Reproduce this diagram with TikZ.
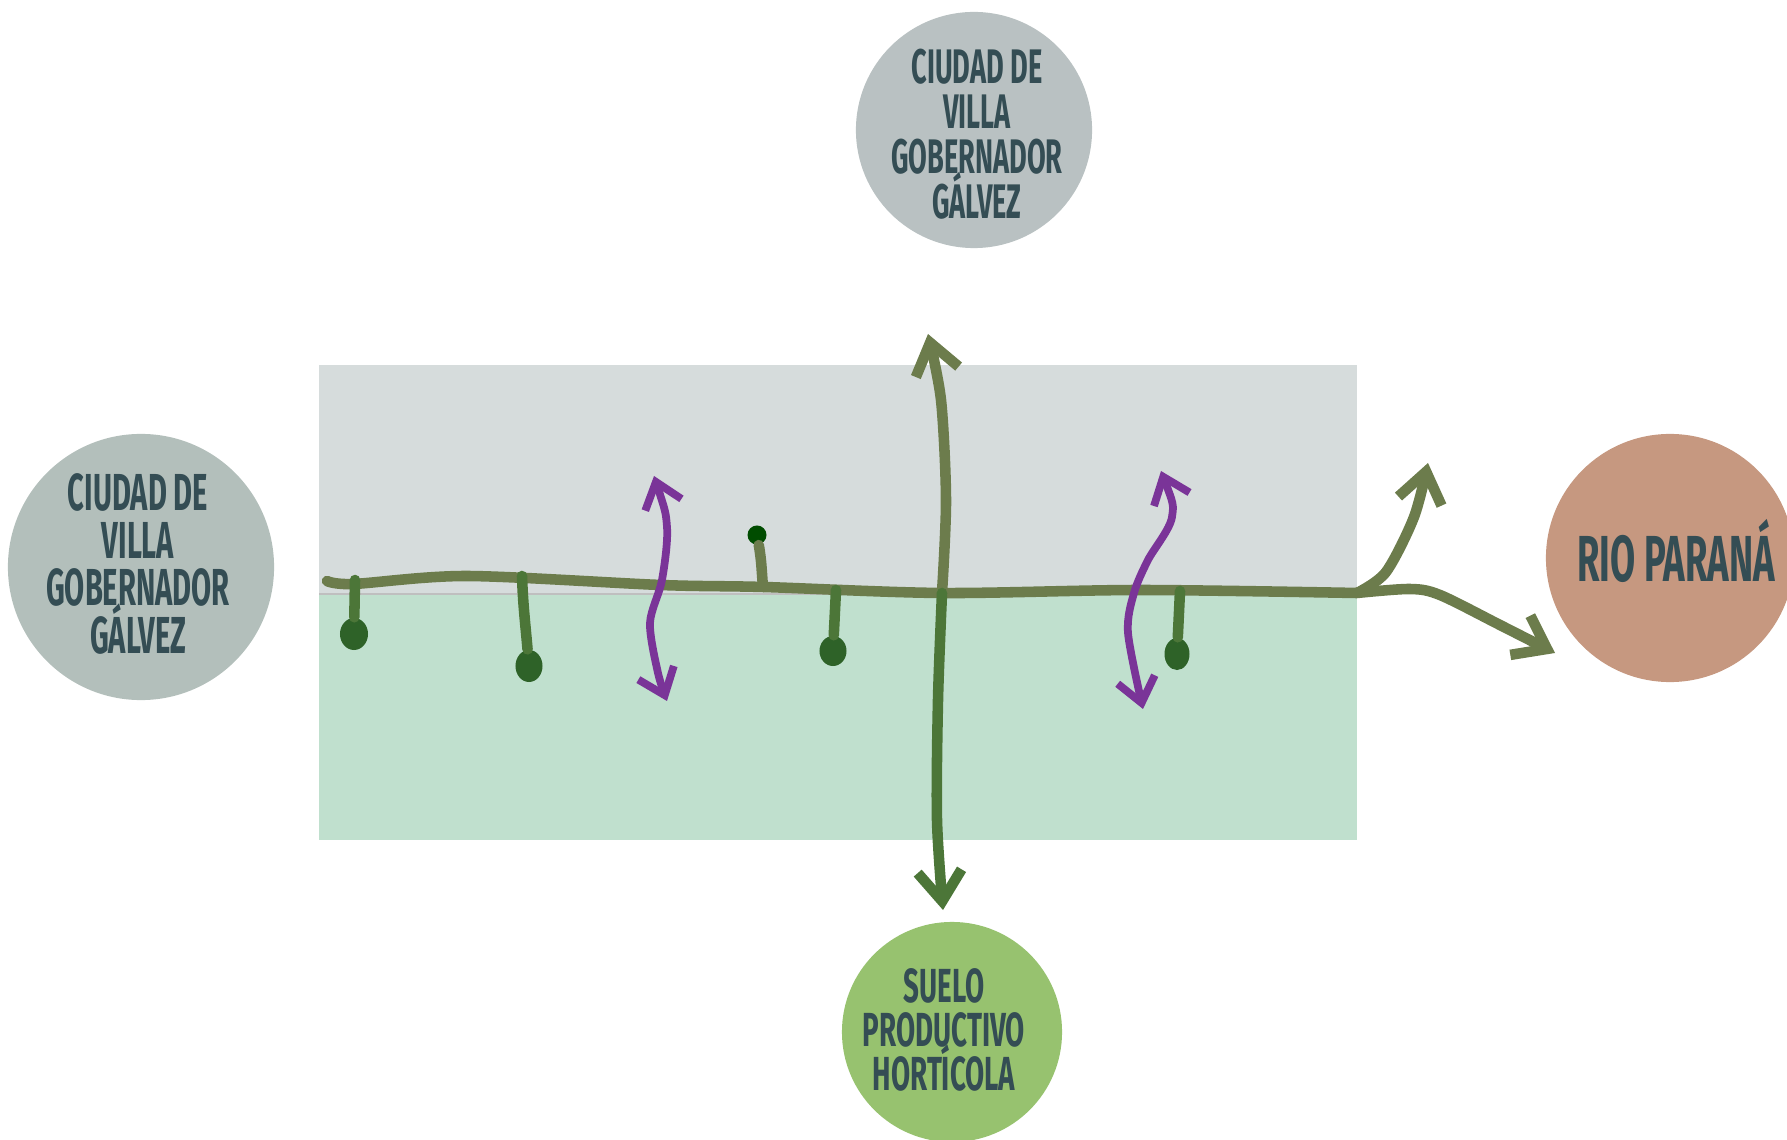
\documentclass[tikz,border=0pt]{standalone}
\usepackage{fontspec}
\newfontfamily\lblfont[FakeStretch=0.56]{Fira Sans}
\newfontfamily\lblfontb[FakeStretch=0.58]{Fira Sans}
\usetikzlibrary{arrows.meta,shapes.geometric}

\definecolor{txtc}{RGB}{52,77,84}
\definecolor{grisc}{RGB}{185,193,194}
\definecolor{grisl}{RGB}{179,191,187}
\definecolor{rioc}{RGB}{198,152,128}
\definecolor{sueloc}{RGB}{151,194,111}
\definecolor{zonasup}{RGB}{214,220,220}
\definecolor{zonainf}{RGB}{192,224,206}
\definecolor{oliva}{RGB}{108,124,76}
\definecolor{verde}{RGB}{76,118,56}
\definecolor{verdeosc}{RGB}{46,98,40}
\definecolor{violeta}{RGB}{122,52,152}

\tikzset{
	lugar/.style={circle, inner sep=0pt},
	rotulo/.style={text=txtc, align=center, inner sep=0pt},
	trazo/.style={line width=3pt, line cap=round, line join=round, draw=oliva},
	flecha/.style={trazo, -{Straight Barb[length=3mm,width=4.4mm]}},
	doble/.style={line width=2.2pt, line cap=round, draw=violeta,
		{Straight Barb[length=2.4mm,width=3.8mm]}-{Straight Barb[length=2.4mm,width=3.8mm]}},
	gota/.style={ellipse, fill=verdeosc, inner sep=0pt},
}
\newcommand{\letra}[2]{\lblfont\bfseries\fontsize{#1}{#2}\selectfont\lineskiplimit=-20pt}

\begin{document}
\begin{tikzpicture}[x=0.01cm,y=-0.01cm]
	\useasboundingbox (0,0) rectangle (1787,1140);

	% zonas
	\fill[zonasup] (319,365) rectangle (1357,594);
	\fill[zonainf] (319,594) rectangle (1357,840);
	\draw[line width=0.4pt, color=black!25] (319,594) -- (1357,594);

	% lugares
	\node[lugar, fill=grisc, minimum size=2.36cm] (villaN) at (974,130) {};
	\node[rotulo, font=\letra{13.8}{12.8}] (villaNt) at (977,134) {CIUDAD DE\\VILLA\\GOBERNADOR\\GÁLVEZ};
	\node[lugar, fill=grisl, minimum size=2.66cm] (villaO) at (141,567) {};
	\node[rotulo, font=\letra{14.8}{13.5}] (villaOt) at (138,564) {CIUDAD DE\\VILLA\\GOBERNADOR\\GÁLVEZ};
	\node[lugar, fill=rioc, minimum size=2.48cm] (rio) at (1670,558) {};
	\node[rotulo, font=\letra{18.5}{18}] (riot) at (1676,551) {RIO PARANÁ};
	\node[lugar, fill=sueloc, minimum size=2.2cm] (suelo) at (952,1032) {};
	\node[rotulo, font=\letra{13.6}{12.5}\lblfontb] (suelot) at (944,1030) {SUELO\\PRODUCTIVO\\HORTÍCOLA};

	% eje principal
	\coordinate (m0) at (327,581);
	\coordinate (m1) at (353,584);
	\coordinate (m2) at (467,576);
	\coordinate (m3) at (661,585);
	\coordinate (m4) at (764,587);
	\coordinate (cruce) at (942,593);
	\coordinate (m6) at (1140,590);
	\coordinate (fin) at (1357,593);
	\draw[trazo] plot[smooth, tension=0.5] coordinates {(m0) (m1) (m2) (m3) (m4) (cruce) (m6) (fin)};

	% flechas verticales
	\coordinate (v1) at (946,500);
	\coordinate (v2) at (941,400);
	\coordinate (norte) at (928,334);
	\coordinate (v3) at (938,700);
	\coordinate (v4) at (937,820);
	\coordinate (sur) at (943,910);
	\draw[flecha] plot[smooth, tension=0.5] coordinates {(cruce) (v1) (v2) (norte)};
	\draw[flecha, draw=verde] plot[smooth, tension=0.5] coordinates {(cruce) (v3) (v4) (sur)};

	% bifurcacion al rio
	\coordinate (r1) at (1386,572);
	\coordinate (r2) at (1414,517);
	\coordinate (ne) at (1428,463);
	\coordinate (r3) at (1410,589);
	\coordinate (r4) at (1440,595);
	\coordinate (r5) at (1500,625);
	\coordinate (este) at (1555,653);
	\draw[flecha] plot[smooth] coordinates {(fin) (r1) (r2) (ne)};
	\draw[flecha] plot[smooth, tension=0.5] coordinates {(fin) (r3) (r4) (r5) (este)};

	% ramas con gotas
	\coordinate (c1) at (355,580);
	\coordinate (c2) at (522,576);
	\coordinate (c3) at (763,587);
	\coordinate (c4) at (836,590);
	\coordinate (c5) at (1180,591);
	\node[gota, minimum width=0.28cm, minimum height=0.32cm] (b1) at (354,634) {};
	\node[gota, minimum width=0.27cm, minimum height=0.32cm] (b2) at (529,666) {};
	\node[gota, minimum size=0.19cm, fill=black!70!green] (b3) at (757,535) {};
	\node[gota, minimum width=0.27cm, minimum height=0.3cm] (b4) at (833,651) {};
	\node[gota, minimum width=0.25cm, minimum height=0.32cm] (b5) at (1177,654) {};
	\draw[trazo, draw=verde] (c1) -- (b1);
	\draw[trazo, draw=verde] (c2) to[out=-88, in=95] (b2);
	\draw[trazo] (c3) to[out=95, in=-80] (b3);
	\draw[trazo, draw=verde] (c4) -- (b4);
	\draw[trazo, draw=verde] (c5) -- (b5);

	% intercambios
	\coordinate (p1a) at (654,476);
	\coordinate (p1b) at (667,527);
	\coordinate (p1c) at (662,580);
	\coordinate (p1d) at (650,623);
	\coordinate (p1e) at (658,673);
	\coordinate (p1f) at (667,701);
	\draw[doble] plot[smooth] coordinates {(p1a) (p1b) (p1c) (p1d) (p1e) (p1f)};
	\coordinate (p2a) at (1161,471);
	\coordinate (p2b) at (1172,517);
	\coordinate (p2c) at (1148,560);
	\coordinate (p2d) at (1134,593);
	\coordinate (p2e) at (1128,633);
	\coordinate (p2f) at (1143,709);
	\draw[doble] plot[smooth] coordinates {(p2a) (p2b) (p2c) (p2d) (p2e) (p2f)};
\end{tikzpicture}
\end{document}
